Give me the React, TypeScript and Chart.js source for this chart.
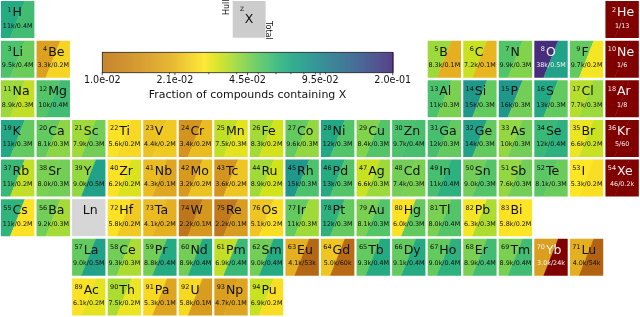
import { useEffect, useRef } from "react";
import { Chart, registerables } from "chart.js";

Chart.register(...registerables);

// ---------- data ----------
const symbols = [
  "H", "He",
  "Li", "Be", "B", "C", "N", "O", "F", "Ne",
  "Na", "Mg", "Al", "Si", "P", "S", "Cl", "Ar",
  "K", "Ca", "Sc", "Ti", "V", "Cr", "Mn", "Fe", "Co", "Ni", "Cu", "Zn", "Ga", "Ge", "As", "Se", "Br", "Kr",
  "Rb", "Sr", "Y", "Zr", "Nb", "Mo", "Tc", "Ru", "Rh", "Pd", "Ag", "Cd", "In", "Sn", "Sb", "Te", "I", "Xe",
  "Cs", "Ba", "Hf", "Ta", "W", "Re", "Os", "Ir", "Pt", "Au", "Hg", "Tl", "Pb", "Bi",
  "La", "Ce", "Pr", "Nd", "Pm", "Sm", "Eu", "Gd", "Tb", "Dy", "Ho", "Er", "Tm", "Yb", "Lu",
  "Ac", "Th", "Pa", "U", "Np", "Pu",
];

const atomicNumbers = [
  1, 2,
  3, 4, 5, 6, 7, 8, 9, 10,
  11, 12, 13, 14, 15, 16, 17, 18,
  19, 20, 21, 22, 23, 24, 25, 26, 27, 28, 29, 30, 31, 32, 33, 34, 35, 36,
  37, 38, 39, 40, 41, 42, 43, 44, 45, 46, 47, 48, 49, 50, 51, 52, 53, 54,
  55, 56, 72, 73, 74, 75, 76, 77, 78, 79, 80, 81, 82, 83,
  57, 58, 59, 60, 61, 62, 63, 64, 65, 66, 67, 68, 69, 70, 71,
  89, 90, 91, 92, 93, 94,
];

const columns = [
  1, 18,
  1, 2, 13, 14, 15, 16, 17, 18,
  1, 2, 13, 14, 15, 16, 17, 18,
  1, 2, 3, 4, 5, 6, 7, 8, 9, 10, 11, 12, 13, 14, 15, 16, 17, 18,
  1, 2, 3, 4, 5, 6, 7, 8, 9, 10, 11, 12, 13, 14, 15, 16, 17, 18,
  1, 2, 4, 5, 6, 7, 8, 9, 10, 11, 12, 13, 14, 15,
  3, 4, 5, 6, 7, 8, 9, 10, 11, 12, 13, 14, 15, 16, 17,
  3, 4, 5, 6, 7, 8,
];

const rows = [
  0, 0,
  1, 1, 1, 1, 1, 1, 1, 1,
  2, 2, 2, 2, 2, 2, 2, 2,
  3, 3, 3, 3, 3, 3, 3, 3, 3, 3, 3, 3, 3, 3, 3, 3, 3, 3,
  4, 4, 4, 4, 4, 4, 4, 4, 4, 4, 4, 4, 4, 4, 4, 4, 4, 4,
  5, 5, 5, 5, 5, 5, 5, 5, 5, 5, 5, 5, 5, 5,
  6, 6, 6, 6, 6, 6, 6, 6, 6, 6, 6, 6, 6, 6, 6,
  7, 7, 7, 7, 7, 7,
];

const countLabels = [
  "11k/0.4M", "1/13",
  "9.5k/0.4M", "3.3k/0.2M", "8.3k/0.1M", "7.2k/0.1M", "9.9k/0.3M", "38k/0.5M", "9.7k/0.2M", "1/6",
  "8.9k/0.3M", "10k/0.4M", "11k/0.3M", "15k/0.3M", "16k/0.3M", "13k/0.3M", "7.7k/0.3M", "1/8",
  "11k/0.3M", "8.1k/0.3M", "7.9k/0.3M", "5.6k/0.2M", "4.4k/0.2M", "3.4k/0.2M", "7.5k/0.3M", "8.3k/0.2M", "9.6k/0.3M",
  "12k/0.3M", "8.4k/0.3M", "9.7k/0.4M", "12k/0.3M", "14k/0.3M", "10k/0.3M", "12k/0.4M", "6.6k/0.2M", "5/60",
  "11k/0.2M", "8.0k/0.3M", "9.0k/0.5M", "6.2k/0.2M", "4.3k/0.1M", "3.2k/0.2M", "3.6k/0.2M", "8.9k/0.2M", "15k/0.3M",
  "13k/0.3M", "6.6k/0.3M", "7.4k/0.3M", "11k/0.4M", "9.0k/0.3M", "7.6k/0.3M", "8.1k/0.3M", "5.3k/0.2M", "46/0.2k",
  "11k/0.2M", "9.2k/0.3M", "5.8k/0.2M", "4.1k/0.2M", "2.2k/0.1M", "2.2k/0.1M", "5.1k/0.2M", "11k/0.3M", "12k/0.3M",
  "8.1k/0.3M", "6.0k/0.3M", "8.0k/0.4M", "6.3k/0.3M", "5.8k/0.2M",
  "9.0k/0.5M", "9.3k/0.3M", "8.8k/0.4M", "8.9k/0.4M", "6.9k/0.4M", "9.0k/0.4M", "4.1k/53k", "5.0k/60k", "9.3k/0.4M",
  "9.1k/0.4M", "9.0k/0.4M", "8.9k/0.4M", "8.9k/0.4M", "3.0k/24k", "4.0k/54k",
  "6.1k/0.2M", "7.5k/0.2M", "5.3k/0.1M", "5.8k/0.1M", "4.7k/0.1M", "6.9k/0.2M",
];

// fraction of hull compounds containing X (upper-left part of each cell)
const hullFractions = [
  0.068, 0.000005,
  0.0535, 0.0171, 0.0397, 0.0342, 0.052, 0.2, 0.0489, 0.000005,
  0.0397, 0.052, 0.0535, 0.0814, 0.0814, 0.0701, 0.0363, 0.000005,
  0.0701, 0.0489, 0.0391, 0.0277, 0.0225, 0.0148, 0.0352, 0.0385, 0.0489, 0.0701, 0.0434, 0.0535, 0.0552, 0.0744, 0.0409, 0.0586, 0.0303, 0.000026,
  0.0586, 0.0447, 0.0409, 0.0277, 0.0218, 0.0157, 0.0148, 0.0391, 0.0814, 0.068, 0.0342, 0.0461, 0.0552, 0.0461, 0.0409, 0.0505, 0.0285, 0.00024,
  0.0622, 0.0461, 0.0277, 0.0218, 0.0094, 0.01, 0.0231, 0.0489, 0.0641, 0.0447, 0.0277, 0.0447, 0.0294, 0.0277,
  0.0489, 0.0461, 0.0461, 0.0461, 0.0352, 0.0461, 0.0199, 0.0231, 0.0489, 0.0489, 0.0489, 0.0447, 0.0447, 0.0166, 0.0199,
  0.0277, 0.0374, 0.0261, 0.0261, 0.0166, 0.0342,
];

// fraction of all compounds containing X (lower-right part of each cell)
const totalFractions = [
  0.0568, 0.000002,
  0.0475, 0.0253, 0.0199, 0.0211, 0.0434, 0.0744, 0.0294, 0.000001,
  0.0352, 0.0568, 0.0447, 0.0489, 0.0461, 0.0489, 0.0397, 0.000001,
  0.0489, 0.0421, 0.0461, 0.0261, 0.0238, 0.0218, 0.0312, 0.0331, 0.0409, 0.052, 0.052, 0.0552, 0.0489, 0.0489, 0.0461, 0.0641, 0.0342, 0.000009,
  0.0352, 0.0461, 0.0744, 0.0322, 0.0182, 0.0225, 0.0231, 0.0331, 0.0535, 0.052, 0.0397, 0.0447, 0.0641, 0.052, 0.0461, 0.0475, 0.0269, 0.00003,
  0.0277, 0.0385, 0.0238, 0.0199, 0.0152, 0.0161, 0.0269, 0.0391, 0.0489, 0.052, 0.0489, 0.052, 0.0374, 0.0281,
  0.0744, 0.0374, 0.068, 0.068, 0.0586, 0.068, 0.0074, 0.0079, 0.068, 0.068, 0.0641, 0.0568, 0.0568, 0.0034, 0.007,
  0.0312, 0.0303, 0.0177, 0.0161, 0.0177, 0.0269,
];

const lanthanidePlaceholder = { symbol: "Ln", column: 3, row: 5 };

const colorbarMin = 0.01;
const colorbarMax = 0.2;
const colorbarTickValues = [0.01, 0.02115, 0.04472, 0.09457, 0.2];
const colorbarTickLabels = ["1.0e-02", "2.1e-02", "4.5e-02", "9.5e-02", "2.0e-01"];
const colorbarMinorTicks = [0.02, 0.03, 0.04, 0.05, 0.06, 0.07, 0.08, 0.09, 0.1];
const colorbarTitle = "Fraction of compounds containing X";

// ---------- colour map ----------
const VIRIDIS = [
  "#440154", "#481a6c", "#472f7d", "#414487", "#39568c", "#31688e", "#2a788e", "#23888e",
  "#1f988b", "#22a884", "#35b779", "#54c568", "#7ad151", "#a5db36", "#d2e21b", "#fde725",
];
const LOW_STOPS: [number, string][] = [
  [-0.25, "#a24a08"],
  [0, "#c07a1c"],
  [0.12, "#d2921e"],
  [0.24, "#e6b221"],
  [0.35, "#fde725"],
];
const UNDER_COLOR = "#800000";
const UNDER_CUT = 0.005;

function hexToRgb(h: string): number[] {
  const v = parseInt(h.slice(1), 16);
  return [(v >> 16) & 255, (v >> 8) & 255, v & 255];
}
function mix(a: string, b: string, f: number): number[] {
  const A = hexToRgb(a);
  const B = hexToRgb(b);
  return [0, 1, 2].map((i) => A[i] + (B[i] - A[i]) * f);
}
function rgbStr(c: number[]): string {
  return `rgb(${Math.round(c[0])},${Math.round(c[1])},${Math.round(c[2])})`;
}
function colorRgb(frac: number): number[] {
  if (frac < UNDER_CUT) return hexToRgb(UNDER_COLOR);
  let t = Math.log(frac / colorbarMin) / Math.log(colorbarMax / colorbarMin);
  t = Math.min(1, Math.max(-0.25, t));
  if (t <= 0.35) {
    for (let i = 0; i < LOW_STOPS.length - 1; i++) {
      const [t0, c0] = LOW_STOPS[i];
      const [t1, c1] = LOW_STOPS[i + 1];
      if (t >= t0 && t <= t1) return mix(c0, c1, (t - t0) / (t1 - t0));
    }
    return hexToRgb(LOW_STOPS[LOW_STOPS.length - 1][1]);
  }
  const v = 1 - ((t - 0.35) / 0.65) * 0.87;
  const p = v * (VIRIDIS.length - 1);
  const i = Math.min(VIRIDIS.length - 2, Math.floor(p));
  return mix(VIRIDIS[i], VIRIDIS[i + 1], p - i);
}
function lum(c: number[]): number {
  return (0.299 * c[0] + 0.587 * c[1] + 0.114 * c[2]) / 255;
}

const FONT = '"DejaVu Sans", "Liberation Sans", sans-serif';

const tablePlugin = {
  id: "ptableSplits",
  afterDatasetsDraw(chart: any) {
    const ctx: CanvasRenderingContext2D = chart.ctx;
    const xs = chart.scales.x;
    const ys = chart.scales.y;
    const px = (v: number) => xs.getPixelForValue(v);
    const py = (v: number) => ys.getPixelForValue(v);

    const cellBox = (col: number, row: number) => {
      const x0 = px(col - 1) + 1;
      const x1 = px(col) - 1.2;
      const y0 = py(row) + 1;
      const y1 = py(row + 1) - 1.6;
      return { x0, x1, y0, y1 };
    };

    ctx.save();
    // element cells
    symbols.forEach((sym, i) => {
      const { x0, x1, y0, y1 } = cellBox(columns[i], rows[i]);
      const w = x1 - x0;
      const cHull = colorRgb(hullFractions[i]);
      const cTot = colorRgb(totalFractions[i]);
      const xt = x0 + 0.72 * w;
      const xb = x0 + 0.28 * w;
      ctx.fillStyle = rgbStr(cHull);
      ctx.beginPath();
      ctx.moveTo(x0, y0);
      ctx.lineTo(xt, y0);
      ctx.lineTo(xb, y1);
      ctx.lineTo(x0, y1);
      ctx.closePath();
      ctx.fill();
      ctx.fillStyle = rgbStr(cTot);
      ctx.beginPath();
      ctx.moveTo(xt - 0.3, y0);
      ctx.lineTo(x1, y0);
      ctx.lineTo(x1, y1);
      ctx.lineTo(xb - 0.3, y1);
      ctx.closePath();
      ctx.fill();

      const dark = (lum(cHull) + lum(cTot)) / 2 < 0.42;
      ctx.fillStyle = dark ? "#f2f2f2" : "#111111";
      ctx.textBaseline = "alphabetic";
      ctx.font = `6.5px ${FONT}`;
      ctx.textAlign = "right";
      ctx.fillText(String(atomicNumbers[i]), x0 + 10.6, y0 + 10.6);
      ctx.font = `12.5px ${FONT}`;
      ctx.textAlign = "left";
      ctx.fillText(sym, x0 + 11.6, y0 + 15.2);
      ctx.font = `6.4px ${FONT}`;
      ctx.textAlign = "center";
      ctx.fillText(countLabels[i], (x0 + x1) / 2, y0 + 26.6);
    });

    // lanthanide placeholder
    {
      const { x0, x1, y0, y1 } = cellBox(lanthanidePlaceholder.column, lanthanidePlaceholder.row);
      ctx.fillStyle = "#d6d6d6";
      ctx.fillRect(x0, y0, x1 - x0, y1 - y0);
      ctx.fillStyle = "#111111";
      ctx.font = `12.5px ${FONT}`;
      ctx.textAlign = "center";
      ctx.fillText(lanthanidePlaceholder.symbol, (x0 + x1) / 2 + 1.5, y0 + 15.2);
    }

    // legend key cell
    {
      const x0 = px(6.545);
      const x1 = px(7.47);
      const y0 = py(0.025);
      const y1 = py(0.952);
      ctx.fillStyle = "#cccccc";
      ctx.fillRect(x0, y0, x1 - x0, y1 - y0);
      ctx.fillStyle = "#111111";
      ctx.font = `6px ${FONT}`;
      ctx.textAlign = "left";
      ctx.fillText("Z", x0 + 7.4, y0 + 10);
      ctx.font = `12.5px ${FONT}`;
      ctx.textAlign = "center";
      ctx.fillText("X", (x0 + x1) / 2, y0 + 22.3);
      ctx.font = `8px ${FONT}`;
      ctx.save();
      ctx.translate(x0 - 4.2, y0 + 14);
      ctx.rotate(-Math.PI / 2);
      ctx.textAlign = "left";
      ctx.fillText("Hull", 0, 0);
      ctx.restore();
      ctx.save();
      ctx.translate(x1 + 0.6, y0 + 20);
      ctx.rotate(Math.PI / 2);
      ctx.textAlign = "left";
      ctx.fillText("Total", 0, 0);
      ctx.restore();
    }

    // colour bar
    {
      const left = px(2.877);
      const right = px(11.045);
      const top = py(1.32);
      const bottom = py(1.835);
      const span = right - left;
      const logR = Math.log(colorbarMax / colorbarMin);
      for (let x = 0; x < span; x += 1) {
        const t = x / span;
        ctx.fillStyle = rgbStr(colorRgb(colorbarMin * Math.exp(t * logR)));
        ctx.fillRect(left + x, top, 1.4, bottom - top);
      }
      ctx.strokeStyle = "#222222";
      ctx.lineWidth = 0.8;
      ctx.strokeRect(left, top, span, bottom - top);
      const xOf = (v: number) => left + (Math.log(v / colorbarMin) / logR) * span;
      ctx.lineWidth = 0.8;
      colorbarMinorTicks.forEach((v) => {
        const x = xOf(v);
        ctx.beginPath();
        ctx.moveTo(x, bottom);
        ctx.lineTo(x, bottom + 1.5);
        ctx.stroke();
      });
      ctx.fillStyle = "#111111";
      ctx.font = `9.6px ${FONT}`;
      ctx.textAlign = "center";
      colorbarTickValues.forEach((v, k) => {
        const x = xOf(v);
        ctx.beginPath();
        ctx.moveTo(x, bottom);
        ctx.lineTo(x, bottom + 2.5);
        ctx.stroke();
        ctx.fillText(colorbarTickLabels[k], x, bottom + 10.6);
      });
      ctx.font = `11px ${FONT}`;
      ctx.fillText(colorbarTitle, left + span / 2, bottom + 25);
    }
    ctx.restore();
  },
};

export default function App() {
  const ref = useRef<HTMLCanvasElement | null>(null);
  useEffect(() => {
    document.body.style.margin = "0";
    const canvas = ref.current;
    if (!canvas) return;
    const chart = new Chart(canvas, {
      type: "scatter",
      data: {
        datasets: [
          {
            data: symbols.map((_, i) => ({ x: columns[i] - 0.5, y: rows[i] + 0.5 })),
            pointRadius: 0,
            pointHoverRadius: 0,
          },
        ],
      },
      options: {
        animation: false,
        responsive: true,
        maintainAspectRatio: false,
        layout: { padding: 0 },
        plugins: { legend: { display: false }, tooltip: { enabled: false } },
        events: [],
        scales: {
          x: { type: "linear", min: 0, max: 18, display: false },
          y: { type: "linear", min: 0, max: 8, reverse: true, display: false },
        },
      },
      plugins: [tablePlugin],
    });
    return () => chart.destroy();
  }, []);
  return (
    <div style={{ width: 640, height: 317, position: "relative", background: "#ffffff" }}>
      <canvas ref={ref} />
    </div>
  );
}
